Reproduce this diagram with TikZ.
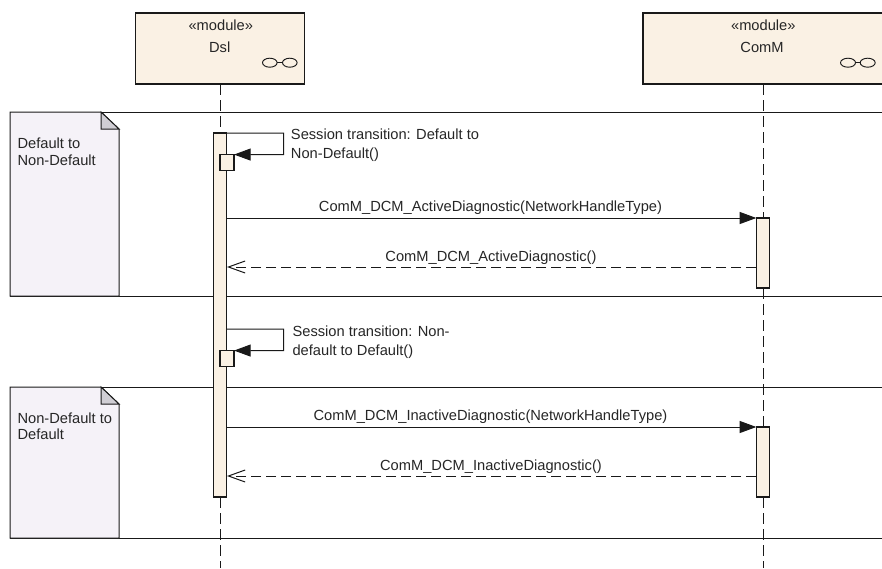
\documentclass[tikz,border=0pt]{standalone}
\usepackage{fontspec}
\setmainfont{Liberation Sans}
\usepackage{tikz}
\usetikzlibrary{arrows.meta}
\definecolor{modfill}{RGB}{250,241,228}
\definecolor{notefill}{RGB}{245,242,248}
\definecolor{foldfill}{RGB}{208,206,212}
\definecolor{inkline}{RGB}{25,25,25}
\tikzset{
	module/.style={draw=inkline,fill=modfill,line width=0.8pt,inner sep=0pt,outer sep=0pt,minimum height=53.25pt},
	bar/.style={draw=inkline,fill=modfill,line width=0.8pt,inner sep=0pt,outer sep=0pt,minimum width=10pt},
	lifeline/.style={draw=inkline,line width=0.75pt,dash pattern=on 8.5pt off 3.5pt},
	frameline/.style={draw=inkline,line width=0.75pt},
	call/.style={draw=inkline,line width=0.75pt,-{Triangle[length=12.5pt,width=9pt]}},
	reply/.style={draw=inkline,line width=0.75pt,dash pattern=on 7.5pt off 3.75pt,-{Straight Barb[length=12.5pt,width=9pt]}},
	txt/.style={font=\fontsize{11}{14.25}\selectfont,text=black!85,inner sep=0pt,anchor=base},
	notetxt/.style={font=\fontsize{11}{12.2}\selectfont,text=black!85,inner sep=0pt,align=left,anchor=north west},
	selftxt/.style={txt,align=left,anchor=north west}
}
\begin{document}
\begin{tikzpicture}[x=0.75pt,y=-0.75pt]
		\useasboundingbox (0,0) rectangle (882,568);

		% frames
		\coordinate (F1) at (10,112);
		\coordinate (F1r) at (890,112);
		\coordinate (F1b) at (10,296);
		\coordinate (F1br) at (890,296);
		\draw[frameline] (F1)--(F1r);
		\draw[frameline] (F1b)--(F1br);
		\draw[frameline,fill=notefill] (10,112)--(101,112)--(119,129)--(119,296)--(10,296)--cycle;
		\draw[frameline,fill=foldfill] (101,112)--(119,129)--(101,129)--cycle;
		\node[notetxt] (note1) at (17.3,138) {Default to\\Non-Default};

		\coordinate (F2) at (10,387);
		\coordinate (F2r) at (890,387);
		\coordinate (F2b) at (10,538);
		\coordinate (F2br) at (890,538);
		\draw[frameline] (F2)--(F2r);
		\draw[frameline] (F2b)--(F2br);
		\draw[frameline,fill=notefill] (10,387)--(101,387)--(119,404)--(119,538)--(10,538)--cycle;
		\draw[frameline,fill=foldfill] (101,387)--(119,404)--(101,404)--cycle;
		\node[notetxt] (note2) at (17.3,412.7) {Non-Default to\\Default};

		% modules
		\node[module,minimum width=127pt] (dsl) at (220,48.5) {};
		\node[module,minimum width=180pt] (comm) at (763,48.5) {};
		\node[txt] (dslst) at (220.8,30.7) {«module»};
		\node[txt] (dslname) at (219.7,52.7) {Dsl};
		\node[txt] (commst) at (763.3,30.7) {«module»};
		\node[txt] (commname) at (762,52.7) {ComM};

		\draw[inkline,line width=0.7pt] (269.8,62.7) ellipse (7.3 and 4.5);
		\draw[inkline,line width=0.7pt] (289.8,62.7) ellipse (7.3 and 4.5);
		\draw[inkline,line width=0.7pt] (277,62.7)--(282.5,62.7);
		\draw[inkline,line width=0.7pt] (848,62.7) ellipse (7.5 and 4.5);
		\draw[inkline,line width=0.7pt] (867.7,62.7) ellipse (7.5 and 4.5);
		\draw[inkline,line width=0.7pt] (855.5,62.7)--(860.2,62.7);

		% bars
		\node[bar,minimum height=273pt] (dslbar) at (220,315) {};
		\node[bar,minimum height=52.5pt] (commbar1) at (763,253) {};
		\node[bar,minimum height=52.5pt] (commbar2) at (763,462) {};
		\node[bar,minimum width=10.5pt,minimum height=11.6pt] (self1) at (227,162.3) {};
		\node[bar,minimum width=10.5pt,minimum height=11.6pt] (self2) at (227,358.3) {};

		% lifelines
		\coordinate (dslend) at (220,568);
		\coordinate (commend) at (763,568);
		\draw[lifeline] (dsl.south)--(dslbar.north);
		\draw[lifeline] (dslbar.south)--(dslend);
		\draw[lifeline] (comm.south)--(commbar1.north);
		\draw[lifeline] (commbar1.south)--(commbar2.north);
		\draw[lifeline] (commbar2.south)--(commend);

		% self calls
		\coordinate (S1a) at (227,133);
		\coordinate (S1b) at (283.5,133);
		\coordinate (S1c) at (283.5,154.5);
		\draw[call] (S1a)--(S1b)--(S1c)--(self1.north east);
		\node[selftxt] (s1lab) at (290.7,128.3) {Session transition: Default to\\Non-Default()};

		\coordinate (S2a) at (227,329);
		\coordinate (S2b) at (283.5,329);
		\coordinate (S2c) at (283.5,350.5);
		\draw[call] (S2a)--(S2b)--(S2c)--(self2.north east);
		\node[selftxt] (s2lab) at (292.3,326) {Session transition: Non-\\default to Default()};

		% messages
		\draw[call] (dslbar.east |- commbar1.north)--(commbar1.north west);
		\node[txt] (m1lab) at (490.5,211.7) {ComM\_DCM\_ActiveDiagnostic(NetworkHandleType)};
		\coordinate (R1) at (756,267);
		\coordinate (R1e) at (227,267);
		\draw[reply] (R1)--(R1e);
		\node[txt] (r1lab) at (491,261.7) {ComM\_DCM\_ActiveDiagnostic()};

		\draw[call] (dslbar.east |- commbar2.north)--(commbar2.north west);
		\node[txt] (m2lab) at (490.5,420) {ComM\_DCM\_InactiveDiagnostic(NetworkHandleType)};
		\coordinate (R2) at (756,476);
		\coordinate (R2e) at (227,476);
		\draw[reply] (R2)--(R2e);
		\node[txt] (r2lab) at (491,470) {ComM\_DCM\_InactiveDiagnostic()};
\end{tikzpicture}
\end{document}
